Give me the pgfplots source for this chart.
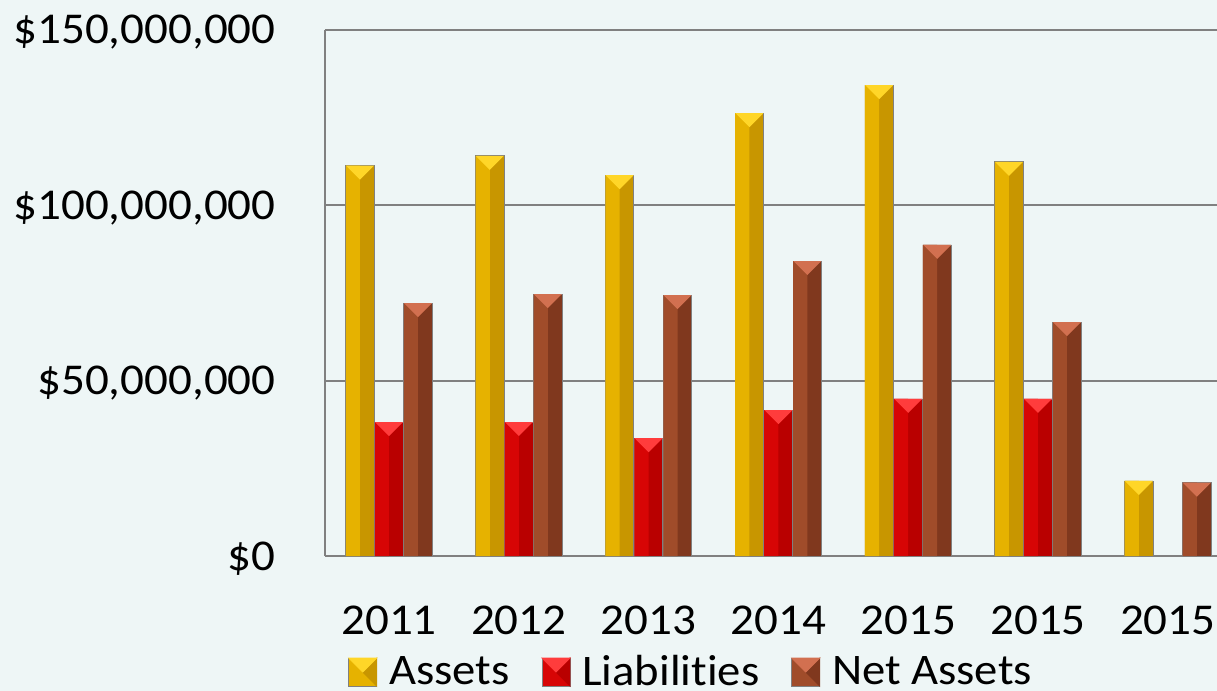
\documentclass[border=0pt]{standalone}
\usepackage{pgfplots}
\pgfplotsset{compat=1.18}
\usepackage{pgfplotstable}
\usepackage{fontspec}
\setmainfont{Carlito}[Ligatures=NoCommon, FakeStretch=1.07]

\definecolor{bg}{RGB}{238,246,246}
\definecolor{gridc}{RGB}{128,128,128}
\definecolor{aL}{RGB}{230,178,0}
\definecolor{aR}{RGB}{200,150,0}
\definecolor{aT}{RGB}{255,214,40}
\definecolor{lL}{RGB}{215,5,5}
\definecolor{lR}{RGB}{185,0,0}
\definecolor{lT}{RGB}{255,60,60}
\definecolor{nL}{RGB}{160,76,42}
\definecolor{nR}{RGB}{128,56,30}
\definecolor{nT}{RGB}{210,112,80}

% top bevel triangle of a bar
\pgfdeclareplotmark{bevel}{%
  \pgfpathmoveto{\pgfqpoint{-7pt}{0pt}}%
  \pgfpathlineto{\pgfqpoint{7pt}{0pt}}%
  \pgfpathlineto{\pgfqpoint{0pt}{-7pt}}%
  \pgfpathclose\pgfusepathqfill}

\newcommand\tickfont{\fontsize{22}{27}\selectfont}

% values in millions of dollars
\pgfplotstableread{
x assets liab net
0 111.3 38.2 72.1
1 114.1 38.2 74.7
2 108.6 33.6 74.4
3 126.3 41.6 84.1
4 134.3 44.8 88.7
5 112.4 44.8 66.7
6 21.4 nan 20.9
}\datatable

\pgfplotsset{
  fullbar/.style={ybar, bar width=14.25pt, bar shift=0pt, draw=gridc, line width=0.4pt, fill=#1},
  halfbar/.style={ybar, bar width=7.1pt, bar shift=-3.56pt, draw=none, fill=#1, forget plot},
  bevels/.style={only marks, mark=bevel, mark options={fill=#1, draw=none}, forget plot},
  legbox/.style n args={3}{legend image code/.code={
    \draw[gridc, fill=#1] (0pt,-7pt) rectangle (14pt,7pt);
    \fill[#2] (14pt,7pt)--(14pt,-7pt)--(7pt,0pt)--cycle;
    \fill[#3] (0pt,7pt)--(14pt,7pt)--(7pt,0pt)--cycle;}},
}

\begin{document}
\begin{tikzpicture}
\fill[bg] (0,0) rectangle (608.5pt,345.5pt);
\begin{axis}[
    at={(162.5pt,67.5pt)}, anchor=south west,
    scale only axis,
    width=446pt, height=263pt,
    xmin=-0.493, xmax=6.379,
    ymin=0, ymax=150,
    axis x line*=bottom, axis y line*=left,
    axis line style={draw=gridc, line width=1pt, -},
    ymajorgrids, grid style={draw=gridc, line width=1pt},
    major tick length=0pt,
    xtick={0,1,2,3,4,5,6},
    xticklabels={2011,2012,2013,2014,2015,2015,2015},
    ytick={0,50,100,150},
    yticklabels={\$0,{\$50,000,000},{\$100,000,000},{\$150,000,000}},
    tick label style={font=\tickfont},
    xticklabel style={anchor=base, yshift=-39pt},
    yticklabel style={anchor=base east, inner sep=0pt, xshift=-24.5pt, yshift=-7pt},
    legend style={at={(0.0258,-0.2207)}, anchor=west, legend columns=-1,
      draw=none, fill=none, inner sep=0pt,
      font=\fontsize{21.8}{26}\selectfont,
      /tikz/every odd column/.append style={column sep=4pt},
      /tikz/every even column/.append style={column sep=14pt}},
]
% Assets
\addplot[fullbar=aR, legbox={aL}{aR}{aT}]
  table[x expr=\thisrow{x}-0.2234, y=assets] {\datatable};
\addlegendentry{Assets}
\addplot[halfbar=aL] table[x expr=\thisrow{x}-0.2234, y=assets] {\datatable};
\addplot[bevels=aT] table[x expr=\thisrow{x}-0.2234, y=assets] {\datatable};
% Liabilities
\addplot[fullbar=lR, legbox={lL}{lR}{lT}]
  table[x=x, y=liab] {\datatable};
\addlegendentry{Liabilities}
\addplot[halfbar=lL] table[x=x, y=liab] {\datatable};
\addplot[bevels=lT] table[x=x, y=liab] {\datatable};
% Net Assets
\addplot[fullbar=nR, legbox={nL}{nR}{nT}]
  table[x expr=\thisrow{x}+0.2234, y=net] {\datatable};
\addlegendentry{Net Assets}
\addplot[halfbar=nL] table[x expr=\thisrow{x}+0.2234, y=net] {\datatable};
\addplot[bevels=nT] table[x expr=\thisrow{x}+0.2234, y=net] {\datatable};
\end{axis}
\pgfresetboundingbox
\path[use as bounding box] (0,0) rectangle (608.5pt,345.5pt);
\end{tikzpicture}
\end{document}
